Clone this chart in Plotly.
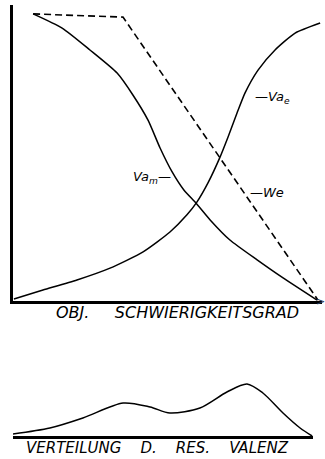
import plotly.graph_objects as go

# top chart: objective difficulty (x) vs. curves
we_x = [0.065, 0.356, 0.987]
we_y = [0.970, 0.959, 0.003]

vam_x = [0.065, 0.159, 0.249, 0.337, 0.388, 0.437, 0.476, 0.515, 0.553, 0.592,
         0.638, 0.702, 0.790, 0.874, 0.984]
vam_y = [0.970, 0.922, 0.848, 0.770, 0.696, 0.611, 0.517, 0.436, 0.375, 0.331,
         0.274, 0.206, 0.139, 0.078, 0.003]

vae_x = [0.003, 0.097, 0.207, 0.314, 0.421, 0.508, 0.563, 0.595, 0.631, 0.670,
         0.696, 0.725, 0.751, 0.793, 0.848, 0.913, 0.994]
vae_y = [0.007, 0.037, 0.071, 0.111, 0.166, 0.233, 0.291, 0.334, 0.399, 0.486,
         0.554, 0.635, 0.703, 0.780, 0.848, 0.905, 0.939]

# bottom chart: distribution of resulting valence
val_x = [0.0, 0.123, 0.233, 0.367, 0.457, 0.523, 0.623, 0.713, 0.780, 0.833, 0.900, 0.957, 0.997]
val_y = [0.033, 0.133, 0.300, 0.550, 0.483, 0.383, 0.467, 0.733, 0.867, 0.717, 0.383, 0.133, 0.0]

W, H = 325, 459
font = dict(family="DejaVu Sans", size=13, color="black", style="italic")
sp = "\u00a0"

fig = go.Figure()
fig.add_trace(go.Scatter(x=we_x, y=we_y, mode="lines",
                         line=dict(color="black", width=1.6, dash="7px,4px")))
fig.add_trace(go.Scatter(x=vam_x, y=vam_y, mode="lines",
                         line=dict(color="black", width=1.5, shape="spline", smoothing=0.6)))
fig.add_trace(go.Scatter(x=vae_x, y=vae_y, mode="lines",
                         line=dict(color="black", width=1.5, shape="spline", smoothing=0.6)))
fig.add_trace(go.Scatter(x=val_x, y=val_y, mode="lines", xaxis="x2", yaxis="y2",
                         line=dict(color="black", width=1.5, shape="spline", smoothing=0.8)))

ax = dict(showgrid=False, zeroline=False, showticklabels=False, ticks="",
          showline=True, linecolor="black", linewidth=2.5)

fig.update_layout(
    width=W, height=H, showlegend=False,
    margin=dict(l=0, r=0, t=0, b=0),
    paper_bgcolor="white", plot_bgcolor="white",
    xaxis=dict(ax, domain=[13 / W, 322 / W], range=[0, 1], anchor="y"),
    yaxis=dict(ax, domain=[1 - 301 / H, 1 - 5 / H], range=[0, 1], anchor="x"),
    xaxis2=dict(ax, domain=[13 / W, 313 / W], range=[0, 1], anchor="y2"),
    yaxis2=dict(ax, domain=[1 - 436 / H, 1 - 376 / H], range=[0, 1], anchor="x2",
                showline=False),
)

ann = [
    dict(x=0.777, y=0.686, xref="x", yref="y", text="—Va<sub>e</sub>", xanchor="left"),
    dict(x=0.518, y=0.416, xref="x", yref="y", text="Va<sub>m</sub>—", xanchor="right"),
    dict(x=0.761, y=0.368, xref="x", yref="y", text="—We", xanchor="left"),
    dict(x=177 / W, y=1 - 312.5 / H, xref="paper", yref="paper",
         text="OBJ." + sp * 5 + "SCHWIERIGKEITSGRAD", xanchor="center",
         font=dict(font, size=16)),
    dict(x=157.5 / W, y=1 - 448 / H, xref="paper", yref="paper",
         text=("VERTEILUNG" + sp * 4 + "D." + sp * 4 + "RES." + sp * 4 + "VALENZ"),
         xanchor="center", font=dict(font, size=15)),
    dict(x=320 / W, y=1 - 301 / H, xref="paper", yref="paper",
         text=">", xanchor="center", font=dict(family="DejaVu Sans", size=11)),
]
for a in ann:
    a.setdefault("font", font)
    a["showarrow"] = False
    a["yanchor"] = "middle"
    fig.add_annotation(**a)

fig.write_html("out.html", config={"displayModeBar": False},
               post_script="document.body.style.margin='0px';")
